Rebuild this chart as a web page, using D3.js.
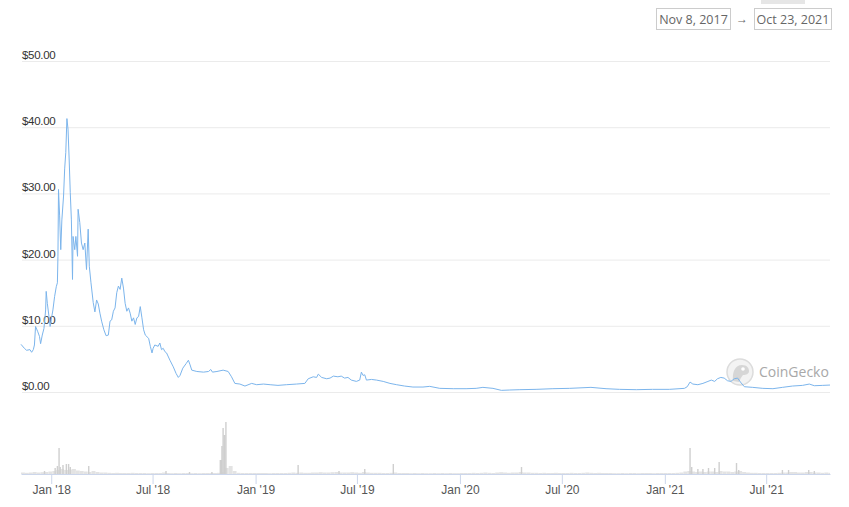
<!DOCTYPE html>
<html><head><meta charset="utf-8">
<script src="https://cdn.jsdelivr.net/npm/d3@7"></script>
<style>
body{margin:0;background:#fff;}
svg{display:block;font-family:"Open Sans",sans-serif;}
</style>
</head><body>
<svg id="c" width="849" height="507"></svg>
<script>
// ---------------- DATA ----------------
const priceDates = [
"2017-11-08","2017-11-14","2017-11-18","2017-11-24","2017-11-27","2017-11-30","2017-12-02","2017-12-04","2017-12-08","2017-12-11",
"2017-12-13","2017-12-16","2017-12-19","2017-12-22","2017-12-23","2017-12-25","2017-12-28","2017-12-30","2018-01-01","2018-01-04",
"2018-01-07","2018-01-10","2018-01-12","2018-01-13","2018-01-14","2018-01-16","2018-01-18","2018-01-20","2018-01-23","2018-01-25",
"2018-01-27","2018-01-29","2018-01-31","2018-02-02","2018-02-04","2018-02-06","2018-02-08","2018-02-09","2018-02-12","2018-02-14",
"2018-02-17","2018-02-18","2018-02-21","2018-02-24","2018-02-27","2018-03-02","2018-03-05","2018-03-08","2018-03-10","2018-03-13",
"2018-03-17","2018-03-20","2018-03-23","2018-03-26","2018-03-29","2018-04-01","2018-04-05","2018-04-09","2018-04-13","2018-04-16",
"2018-04-19","2018-04-22","2018-04-25","2018-04-28","2018-05-01","2018-05-04","2018-05-07","2018-05-10","2018-05-13","2018-05-16",
"2018-05-19","2018-05-22","2018-05-25","2018-05-28","2018-05-31","2018-06-03","2018-06-06","2018-06-09","2018-06-12","2018-06-15",
"2018-06-18","2018-06-24","2018-06-27","2018-06-30","2018-07-02","2018-07-05","2018-07-11","2018-07-14","2018-07-17","2018-07-20",
"2018-07-23","2018-07-26","2018-08-01","2018-08-07","2018-08-12","2018-08-16","2018-08-19","2018-08-24","2018-08-30","2018-09-03",
"2018-09-06","2018-09-09","2018-09-18","2018-09-30","2018-10-09","2018-10-13","2018-10-16","2018-10-24","2018-11-04","2018-11-13",
"2018-11-19","2018-11-25","2018-12-04","2018-12-13","2018-12-25","2019-01-03","2019-01-15","2019-01-27","2019-02-10","2019-02-25",
"2019-03-15","2019-03-30","2019-04-05","2019-04-14","2019-04-20","2019-04-23","2019-04-29","2019-05-08","2019-05-14","2019-05-20",
"2019-05-28","2019-06-03","2019-06-09","2019-06-15","2019-06-21","2019-06-30","2019-07-06","2019-07-09","2019-07-12","2019-07-15",
"2019-07-18","2019-07-27","2019-08-05","2019-08-17","2019-08-29","2019-09-10","2019-09-24","2019-10-09","2019-10-27","2019-11-08",
"2019-11-26","2019-12-20","2020-01-12","2020-01-30","2020-02-11","2020-02-29","2020-03-15","2020-03-30","2020-04-17","2020-05-16",
"2020-06-15","2020-07-15","2020-08-22","2020-09-18","2020-10-12","2020-11-11","2020-12-10","2021-01-09","2021-02-05","2021-02-10",
"2021-02-15","2021-02-20","2021-03-01","2021-03-10","2021-03-19","2021-03-25","2021-03-31","2021-04-05","2021-04-11","2021-04-17",
"2021-04-23","2021-04-29","2021-05-05","2021-05-11","2021-05-16","2021-05-23","2021-06-07","2021-06-25","2021-07-13","2021-07-30",
"2021-08-17","2021-09-04","2021-09-16","2021-09-25","2021-10-10","2021-10-23"
];
const priceValues = [
7.2,6.6,6.3,6.4,6.0,6.4,7.1,9.9,9.1,8.4,
7.3,8.6,9.6,12.4,15.2,13.4,11.4,9.9,10.9,12.4,
14.4,15.9,16.5,20.5,30.6,26.6,21.5,26.0,29.6,33.7,
36.2,41.3,39.7,35.2,30.1,26.0,17.0,23.5,21.5,23.5,
20.5,27.6,25.6,22.5,21.5,22.5,18.5,24.6,19.0,16.5,
13.5,12.1,13.9,13.3,11.9,10.7,9.4,8.5,8.6,10.7,
10.9,12.2,12.7,15.0,16.0,15.5,17.2,15.7,13.4,12.2,
12.7,11.9,10.7,11.2,10.2,11.2,11.4,12.9,11.2,9.4,
8.6,8.1,6.9,5.9,6.6,7.1,6.9,7.4,6.4,6.6,
6.1,5.9,4.8,3.8,2.8,2.2,2.5,3.6,4.3,4.8,
4.1,3.3,3.1,3.0,3.1,3.4,3.0,3.1,3.3,3.1,
2.3,1.3,1.2,0.9,1.3,1.1,1.2,1.1,1.0,1.1,
1.2,1.3,2.0,2.3,2.2,2.7,2.2,2.0,2.1,2.4,
2.3,2.4,2.1,2.2,1.8,1.6,1.8,3.0,2.5,2.6,
1.8,1.9,1.8,1.6,1.3,1.1,0.9,0.75,0.75,0.85,
0.55,0.5,0.5,0.55,0.7,0.55,0.25,0.3,0.35,0.4,
0.5,0.55,0.7,0.5,0.4,0.35,0.4,0.4,0.55,0.8,
1.5,1.2,1.1,1.3,1.6,1.8,1.6,2.0,2.2,2.1,
1.7,1.6,2.0,2.1,1.5,0.8,0.7,0.55,0.5,0.7,
0.9,1.0,1.2,0.95,1.0,1.05
];

const yTicks = [0, 10, 20, 30, 40, 50];
const xTickDates = ["2018-01-01","2018-07-01","2019-01-01","2019-07-01","2020-01-01","2020-07-01","2021-01-01","2021-07-01"];
const xTickLabels = ["Jan '18","Jul '18","Jan '19","Jul '19","Jan '20","Jul '20","Jan '21","Jul '21"];

// weekly background volume (relative units), one value per week from the start date
const volWeekStart = "2017-11-08";
const volWeekly = [
1.5,1.2,1.5,2,1.5,1.8,2,2.5,
3,4,5,4,4.5,5,3.5,3,2.5,
2,3,2,1.5,1.5,
1.2,1,1.2,1,
1,1,1.2,1,1,
1,0.8,1,1,
1,1.5,1,0.8,
1,0.8,1,1,0.8,
1,0.8,1,1,
1,1,1.2,2,
6,8,3,1.2,
1,1,1,1,1,
1,1,0.8,1,
1,1,1,1.2,
1.5,1.2,1.5,1.2,1.2,
1.5,1.5,1.8,1.5,
1.5,1.8,2,1.5,
1.5,1.5,1.8,1.5,1.2,
2,1.5,1.2,1.2,
1.2,1,1,1.2,
1.5,1,1,1,0.8,
1,0.8,1,0.8,
0.8,1,0.8,1,
0.8,1,0.8,0.8,1,
1,1,1.2,1,
1.2,1.5,1.2,1,
1.5,1.8,1.5,1.2,1.5,
1.5,2,1.5,1.5,
1.2,1.2,1,1.2,
1,1,1.2,1,1,
1,1.2,1,1,
1.2,1.5,1.2,1,
1.2,1,1,1,0.8,
0.8,1,0.8,1,
1,0.8,1,1,
1,0.8,1,1,1,
1,1,1.2,1.5,
2.5,3,2.5,2,
2.5,2,2.5,2.5,2,
3,2.5,2.5,2,
2.5,3,2,1.5,
1.2,1.2,1,1,1,
1,1,1.2,1.5,
1.5,2,2,1.5,
1.5,2,2,1.5,1.5,
1.2,1.5,1.2
];
// daily volume spikes
const spikeDates = [
"2017-12-20","2018-01-08","2018-01-12","2018-01-15","2018-01-17","2018-01-22","2018-01-28","2018-02-01","2018-02-04","2018-03-09",
"2018-07-25","2018-09-05","2018-10-15","2018-10-30","2018-11-01","2018-11-02","2018-11-04","2018-11-06","2018-11-07","2018-11-09",
"2019-03-18","2019-05-30","2019-07-15","2019-09-04","2020-04-20","2021-02-15","2021-02-18","2021-03-01","2021-03-10","2021-03-20",
"2021-03-31","2021-04-08","2021-05-09","2021-05-13","2021-07-30","2021-08-10","2021-09-15","2021-09-25"
];
const spikeValues = [
3,6,8,26,7,9,10,10,7,8,
3,2,2,14,14,28,46,39,39,52,
9,3,5,10,7,26,7,5,5,6,
6,12,11,4,4,4,4,3
];
const rangeLabels = ["Nov 8, 2017", "Oct 23, 2021"];

// ---------------- CHART ----------------
const parse = d3.timeParse("%Y-%m-%d");
const svg = d3.select("#c");

const x = d3.scaleTime()
  .domain([parse("2017-11-08"), parse("2021-10-23")])
  .range([21, 830]);
const y = d3.scaleLinear().domain([0, 50]).range([392, 61]);
const yv = d3.scaleLinear().domain([0, 60]).range([474, 414]);

// grid + y labels
const gy = svg.append("g").attr("transform", "translate(22,0)")
  .call(d3.axisRight(y).tickValues(yTicks).tickSize(808).tickFormat(d3.format("$,.2f")));
gy.select(".domain").remove();
gy.selectAll(".tick line").attr("stroke", "#ebebeb");
gy.selectAll(".tick text").attr("x", 0).attr("dy", -2.5)
  .attr("text-anchor", "start").attr("fill", "#333")
  .style("font-size", "11.5px").style("letter-spacing", "-0.3px");

// volume: weekly background bars
const wStart = parse(volWeekStart);
const weekly = volWeekly.map((v, i) => ({d: d3.timeDay.offset(wStart, 7 * i), v}));
svg.append("g").selectAll("rect").data(weekly).join("rect")
  .attr("x", d => x(d.d))
  .attr("width", d => Math.max(0, Math.min(830, x(d3.timeDay.offset(d.d, 7))) - x(d.d)))
  .attr("y", d => yv(d.v))
  .attr("height", d => yv(0) - yv(d.v))
  .attr("fill", "#e3e3e3");

// volume spikes
const spikes = spikeDates.map((s, i) => ({d: parse(s), v: spikeValues[i]}));
svg.append("g").selectAll("rect").data(spikes).join("rect")
  .attr("x", d => x(d.d) - 0.7)
  .attr("width", 1.4)
  .attr("y", d => yv(d.v))
  .attr("height", d => yv(0) - yv(d.v))
  .attr("fill", "#cfcfcf");

// x axis
const gx = svg.append("g").attr("transform", "translate(0,474)")
  .call(d3.axisBottom(x).tickValues(xTickDates.map(parse))
    .tickFormat((d, i) => xTickLabels[i]).tickSize(10).tickSizeOuter(0).tickPadding(1));
gx.select(".domain").attr("stroke", "#ccd6eb");
gx.selectAll(".tick line").attr("stroke", "#ccd6eb");
gx.selectAll(".tick text").attr("fill", "#555").style("font-size", "12px");

// watermark
const wm = svg.append("g").attr("transform", "translate(740,372)");
wm.append("circle").attr("r", 13).attr("fill", "#f3f3f3").attr("stroke", "#dcdcdc").attr("stroke-width", 1.5);
wm.append("path").attr("d", "M-7,9 C-8,0 -5,-7 2,-7 C7,-7 9,-4 9,-1 C9,2 6,3 3,3 C1,5 0,8 -1,10 Z")
  .attr("fill", "#d6d6d6");
wm.append("circle").attr("cx", 3).attr("cy", -3).attr("r", 1.8).attr("fill", "#fff");
svg.append("text").attr("x", 759).attr("y", 377).text("CoinGecko")
  .attr("fill", "#a8a8a8").style("font-size", "14px");

// price line
const series = priceDates.map((s, i) => ({d: parse(s), v: priceValues[i]}));
svg.append("path").datum(series)
  .attr("fill", "none").attr("stroke", "#7cb5ec").attr("stroke-width", 1)
  .attr("stroke-linejoin", "round")
  .attr("d", d3.line().x(d => x(d.d)).y(d => y(d.v)));

// range selector boxes
svg.append("rect").attr("x", 761).attr("y", -2).attr("width", 44).attr("height", 6).attr("fill", "#e6e6e6");
const boxes = [{x: 656, w: 74, t: rangeLabels[0]}, {x: 754, w: 77, t: rangeLabels[1]}];
const bg = svg.append("g");
boxes.forEach(b => {
  bg.append("rect").attr("x", b.x + 0.5).attr("y", 8.5).attr("width", b.w).attr("height", 21)
    .attr("fill", "#fff").attr("stroke", "#cccccc");
  bg.append("text").attr("x", b.x + b.w / 2 + 0.5).attr("y", 23.5).attr("text-anchor", "middle")
    .attr("fill", "#666").style("font-size", "12.5px").text(b.t);
});
bg.append("text").attr("x", 742).attr("y", 23).attr("text-anchor", "middle")
  .attr("fill", "#666").style("font-size", "12px").text("→");
</script>
</body></html>
